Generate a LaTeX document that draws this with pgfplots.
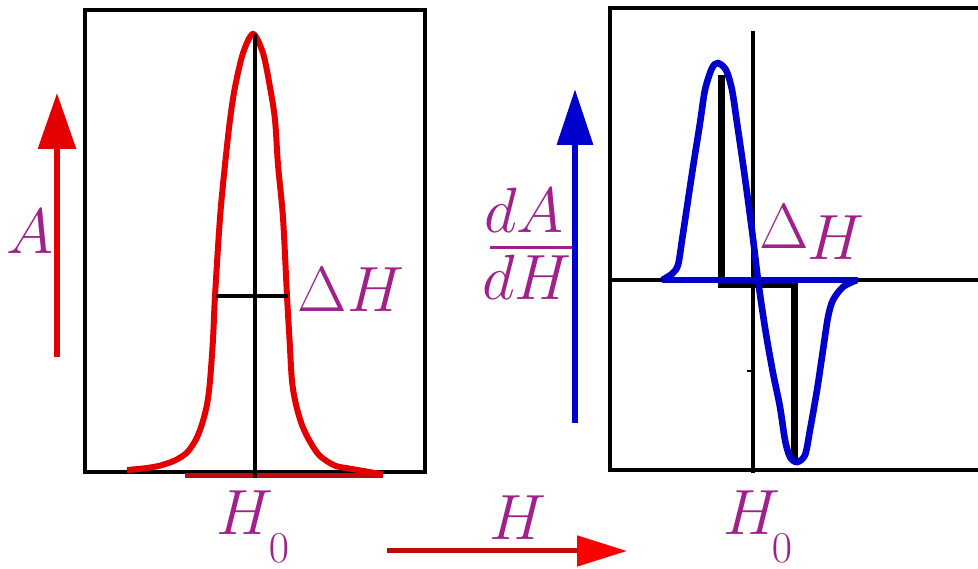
\RequirePackage{fix-cm}
\documentclass[border=0pt]{standalone}
\usepackage{pgfplots}
\pgfplotsset{compat=1.18}
\usetikzlibrary{arrows.meta}

\definecolor{absred}{RGB}{228,0,0}
\definecolor{darkarrow}{RGB}{190,12,12}
\definecolor{derivblue}{RGB}{0,0,205}
\definecolor{lbl}{RGB}{160,32,140}

\newcommand\lblfont{\fontsize{32bp}{36bp}\selectfont\color{lbl}}
\newcommand\subfont{\fontsize{22bp}{26bp}\selectfont\color{lbl}}

% absorption line A(H), normalised to the peak
\pgfplotstableread{
h      a
-12.8  0.000
-11.0  0.004
-9.5   0.010
-8.0   0.022
-6.8   0.040
-5.9   0.070
-5.3   0.105
-4.8   0.150
-4.5   0.204
-4.2   0.300
-4.0   0.399
-3.5   0.578
-3.0   0.700
-2.5   0.803
-2.0   0.878
-1.2   0.956
-0.2   1.000
0.8    0.956
1.5    0.878
2.0    0.803
2.3    0.700
2.8    0.578
3.2    0.399
3.45   0.300
3.7    0.204
4.1    0.150
4.7    0.103
5.5    0.065
6.5    0.032
8.0    0.010
9.5    0.003
12.8   -0.010
}\absorption

% first derivative dA/dH, normalised to the positive lobe
\pgfplotstableread{
h      d
-9.1   0.000
-8.1   0.028
-7.5   0.069
-7.1   0.183
-6.6   0.335
-6.0   0.518
-5.3   0.720
-4.8   0.872
-4.1   0.972
-3.5   0.995
-2.7   0.963
-2.1   0.872
-1.6   0.720
-1.1   0.564
-0.6   0.400
0.0    0.190
0.5    0.000
1.0    -0.160
1.4    -0.275
2.0    -0.427
2.7    -0.583
3.2    -0.734
3.7    -0.812
4.4    -0.835
5.2    -0.803
5.7    -0.688
6.4    -0.505
7.0    -0.321
7.5    -0.170
8.0    -0.092
9.0    -0.032
10.4   0.000
}\derivative

\begin{document}
\begin{tikzpicture}[x=0.5bp,y=0.5bp]
\useasboundingbox (0,0) rectangle (978,569);
\clip (0,0) rectangle (978,569);

% ---- absorption panel ----
\begin{axis}[
  at={(42.5bp,48.5bp)}, anchor=south west,
  scale only axis, width=170bp, height=231bp,
  xmin=-17, xmax=17, ymin=-0.0046, ymax=1.055,
  ticks=none, axis line style={line width=2bp},
  clip=false]
  \addplot[darkarrow, line width=2.5bp] coordinates {(-7,-0.012) (12.8,-0.012)};
  \addplot[absred, line width=3bp, smooth, tension=0.5] table[x=h,y=a] {\absorption};
  \addplot[black, line width=2bp] coordinates {(0,1.0) (0,-0.018)};
  \addplot[black, line width=2bp] coordinates {(-3.9,0.40) (3.25,0.40)};
\end{axis}

% ---- derivative panel ----
\begin{axis}[
  at={(305bp,49.5bp)}, anchor=south west,
  scale only axis, width=190bp, height=231bp,
  xmin=-14.3, xmax=23.7, ymin=-0.8716, ymax=1.2477,
  ticks=none, axis line style={line width=2bp},
  clip=false]
  \addplot[black, line width=2bp] coordinates {(-14.3,0) (23.7,0)};
  \addplot[black, line width=1.8bp] coordinates {(0,1.142) (0,-0.885)};
  \addplot[black, line width=1bp] coordinates {(-0.6,-0.417) (0,-0.417)};
  \addplot[black, line width=3.2bp] coordinates {(-3.15,0.94) (-3.15,-0.022) (4.15,-0.022) (4.15,-0.835)};
  \addplot[derivblue, line width=3bp] coordinates {(-9.1,0) (10.5,0)};
  \addplot[derivblue, line width=3.3bp, smooth, tension=0.5] table[x=h,y=d] {\derivative};
\end{axis}

% axis arrows
\draw[absred, line width=3bp, -{Triangle[width=18.5bp,length=28bp]}] (57,212) -- (57,476);
\draw[derivblue, line width=3.3bp, -{Triangle[width=17.5bp,length=28bp]}] (575,146) -- (575,480);
\draw[darkarrow, line width=2.5bp, -{Triangle[width=15bp,length=25bp,color=red]}] (387,18) -- (627,18);

% labels
\node[anchor=base, inner sep=0] at (30,315) {\lblfont$A$};
\node[anchor=base, inner sep=0] at (351,257) {\lblfont$\Delta H$};
\node[anchor=base, inner sep=0] at (784,320) {\lblfont$\Delta$};
\node[anchor=base, inner sep=0] at (836,309) {\lblfont$H$};
\node[anchor=base, inner sep=0] at (524,336) {\lblfont$dA$};
\draw[lbl, line width=1.5bp] (490,321) -- (572,321);
\node[anchor=base, inner sep=0] at (527,269) {\lblfont$dH$};
\node[anchor=base, inner sep=0] at (245,34) {\lblfont$H$};
\node[anchor=base, inner sep=0] at (279,6) {\subfont$0$};
\node[anchor=base, inner sep=0] at (752,34) {\lblfont$H$};
\node[anchor=base, inner sep=0] at (782,6) {\subfont$0$};
\node[anchor=base, inner sep=0] at (518,29) {\lblfont$H$};
\end{tikzpicture}
\end{document}
